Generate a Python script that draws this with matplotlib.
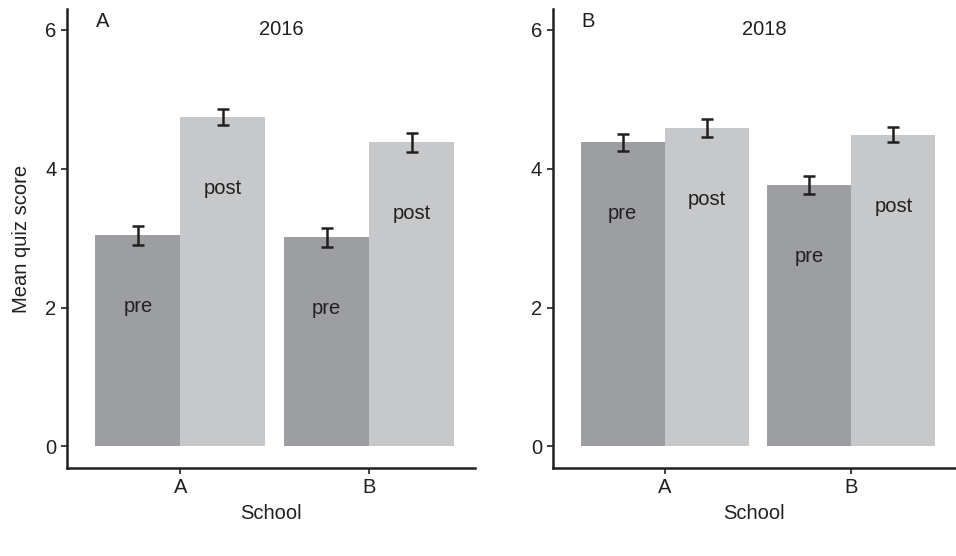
import numpy as np
import matplotlib.pyplot as plt

plt.rcParams['font.family'] = ['Liberation Sans', 'DejaVu Sans']

schools = ["A", "B"]
years = ["2016", "2018"]
panels = ["A", "B"]

# mean quiz scores per year: [school A, school B]
pre_mean = {"2016": [3.04, 3.01], "2018": [4.38, 3.76]}
post_mean = {"2016": [4.74, 4.38], "2018": [4.59, 4.49]}
pre_err = {"2016": [0.14, 0.135], "2018": [0.125, 0.13]}
post_err = {"2016": [0.115, 0.135], "2018": [0.13, 0.11]}

pre_col = "#9d9ea2"
post_col = "#c7c8ca"
ink = "#231f20"
fs = 14.5

fig = plt.figure(figsize=(9.56, 5.56), dpi=100)
axes = [fig.add_axes([0.0701, 0.1583, 0.4268, 0.8255]),
        fig.add_axes([0.5781, 0.1583, 0.4219, 0.8255])]

x = np.arange(1, len(schools) + 1)
w = 0.45

for ax, yr, letter in zip(axes, years, panels):
    ax.bar(x - w / 2, pre_mean[yr], w, color=pre_col)
    ax.bar(x + w / 2, post_mean[yr], w, color=post_col)
    ax.errorbar(x - w / 2, pre_mean[yr], yerr=pre_err[yr], fmt="none",
                ecolor=ink, elinewidth=1.8, capsize=4.5, capthick=1.8)
    ax.errorbar(x + w / 2, post_mean[yr], yerr=post_err[yr], fmt="none",
                ecolor=ink, elinewidth=1.8, capsize=4.5, capthick=1.8)
    for xi, v in zip(x, pre_mean[yr]):
        ax.text(xi - w / 2, v - 1.03, "pre", ha="center", va="center",
                fontsize=fs, color=ink)
    for xi, v in zip(x, post_mean[yr]):
        ax.text(xi + w / 2, v - 1.03, "post", ha="center", va="center",
                fontsize=fs, color=ink)
    ax.text(1.535, 6.0, yr, ha="center", va="center", fontsize=fs, color=ink)
    ax.text(0.59, 6.12, letter, ha="center", va="center", fontsize=fs, color=ink)

    ax.set_xlim(0.4, 2.56)
    ax.set_ylim(-0.31, 6.3)
    ax.set_xticks(x)
    ax.set_xticklabels(schools)
    ax.set_yticks([0, 2, 4, 6])
    for s in ["top", "right"]:
        ax.spines[s].set_visible(False)
    for s in ["left", "bottom"]:
        ax.spines[s].set_linewidth(1.8)
        ax.spines[s].set_color(ink)
    ax.tick_params(length=4.5, width=1.2, color=ink, labelsize=fs,
                   labelcolor=ink, pad=3)
    ax.set_xlabel("School", fontsize=fs, color=ink, labelpad=5)

axes[0].set_ylabel("Mean quiz score", fontsize=fs, color=ink, labelpad=10)

fig.savefig("out.png", dpi=100)
